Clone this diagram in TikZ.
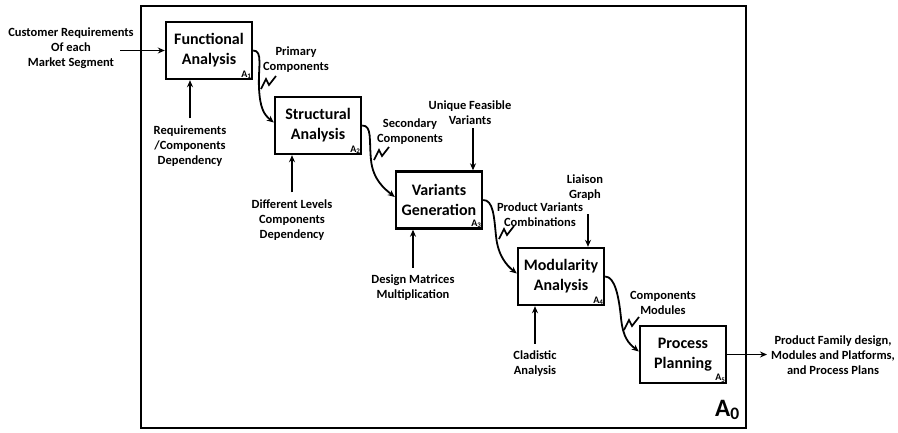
\documentclass[tikz,border=0pt]{standalone}
\usepackage{fontspec}
\setmainfont{Carlito}
\usetikzlibrary{arrows.meta}
\begin{document}
\begin{tikzpicture}[x=1pt,y=-1pt,
  process/.style={draw,line width=2.4pt,minimum width=86pt,minimum height=57pt,
    inner sep=0pt,align=center,font=\fontsize{16}{20}\selectfont\bfseries},
  lbl/.style={align=center,inner sep=1pt,font=\fontsize{12.5}{15}\selectfont\bfseries},
  tag/.style={anchor=south east,inner sep=1.5pt,font=\fontsize{10}{10}\selectfont\bfseries},
  conn/.style={line width=1.8pt,-{Stealth[length=7pt,width=6pt]}},
  squig/.style={line width=1.7pt,line join=miter}]
\useasboundingbox (0,0) rectangle (898,432);

% context frame of the A0 diagram
\draw[line width=2.4pt] (141,6) rectangle (746,428);
\node[anchor=base west,inner sep=0pt,font=\fontsize{25}{25}\selectfont\bfseries]
  (a0) at (715,416) {A\textsubscript{0}};

% activity boxes
\node[process] (b1) at (209,50.5)  {Functional\\Analysis};
\node[process] (b2) at (318,125.5) {Structural\\Analysis};
\node[process] (b3) at (439,200)   {Variants\\Generation};
\node[process] (b4) at (561,276.5) {Modularity\\Analysis};
\node[process] (b5) at (683,354.5) {Process\\Planning};

\node[tag] (n1) at (b1.south east) {A\textsubscript{1}};
\node[tag] (n2) at (b2.south east) {A\textsubscript{2}};
\node[tag] (n3) at (b3.south east) {A\textsubscript{3}};
\node[tag] (n4) at (b4.south east) {A\textsubscript{4}};
\node[tag] (n5) at (b5.south east) {A\textsubscript{5}};

% external input and output
\node[lbl] (cust) at (71,48) {Customer Requirements\\Of each\\Market Segment};
\coordinate (inA) at (120,50.5);
\draw[conn] (inA) -- (b1.west);

\node[lbl] (prod) at (833,355) {Product Family design,\\Modules and Platforms,\\and Process Plans};
\coordinate (outA) at (767,354.5);
\draw[conn] (b5.east) -- (outA);

% mechanisms below the boxes
\node[lbl] (m1t) at (190,146) {Requirements\\/Components\\Dependency};
\node[lbl] (m2t) at (292,220) {Different Levels\\Components\\Dependency};
\node[lbl] (m3t) at (413,288) {Design Matrices\\Multiplication};
\node[lbl] (m4t) at (535,364) {Cladistic\\Analysis};
\draw[conn] ([yshift=6pt]m1t.north) -- (m1t.north |- b1.south);
\draw[conn] ([yshift=6pt]m2t.north) -- (m2t.north |- b2.south);
\draw[conn] ([yshift=6pt]m3t.north) -- (m3t.north |- b3.south);
\draw[conn] ([yshift=6pt]m4t.north) -- (m4t.north |- b4.south);

% controls above the boxes
\node[lbl] (c3t) at (470,113) {Unique Feasible\\Variants};
\node[lbl] (c4t) at (585,188) {Liaison\\Graph};
\coordinate (c3s) at (473,128);
\coordinate (c4s) at (588,214);
\draw[conn] (c3s) -- (c3s |- b3.north);
\draw[conn] (c4s) -- (c4s |- b4.north);

% outputs passed from one activity to the next
\coordinate (k1) at (259,88);
\coordinate (k2) at (371,160);
\coordinate (k3) at (496,236);
\coordinate (k4) at (621,318);
\draw[conn] (b1.east) .. controls +(10,0) and +(-1,-20) .. (k1)
  .. controls +(1,20) and +(-10,-8) .. ([yshift=3pt]b2.west);
\draw[conn] (b2.east) .. controls +(10,0) and +(-2,-20) .. (k2)
  .. controls +(2,20) and +(-10,-8) .. ([yshift=3pt]b3.west);
\draw[conn] (b3.east) .. controls +(10,0) and +(-2,-20) .. (k3)
  .. controls +(2,20) and +(-10,-8) .. ([yshift=3pt]b4.west);
\draw[conn] (b4.east) .. controls +(10,0) and +(-2,-20) .. (k4)
  .. controls +(2,20) and +(-10,-8) .. ([yshift=3pt]b5.west);

% squiggles tying labels to the arrows
\coordinate (s1) at (261,89);
\coordinate (s2) at (374,160);
\coordinate (s3) at (499,239);
\coordinate (s4) at (624,330);
\foreach \s in {s1,s2,s3,s4}
  \draw[squig] (\s) -- +(5,-10) -- +(8,-4) -- +(15,-13);

\node[lbl] (l1) at (296,60)  {Primary\\Components};
\node[lbl] (l2) at (410,132) {Secondary\\Components};
\node[lbl] (l3) at (540,215) {Product Variants\\Combinations};
\node[lbl] (l4) at (663,303) {Components\\Modules};
\end{tikzpicture}
\end{document}
